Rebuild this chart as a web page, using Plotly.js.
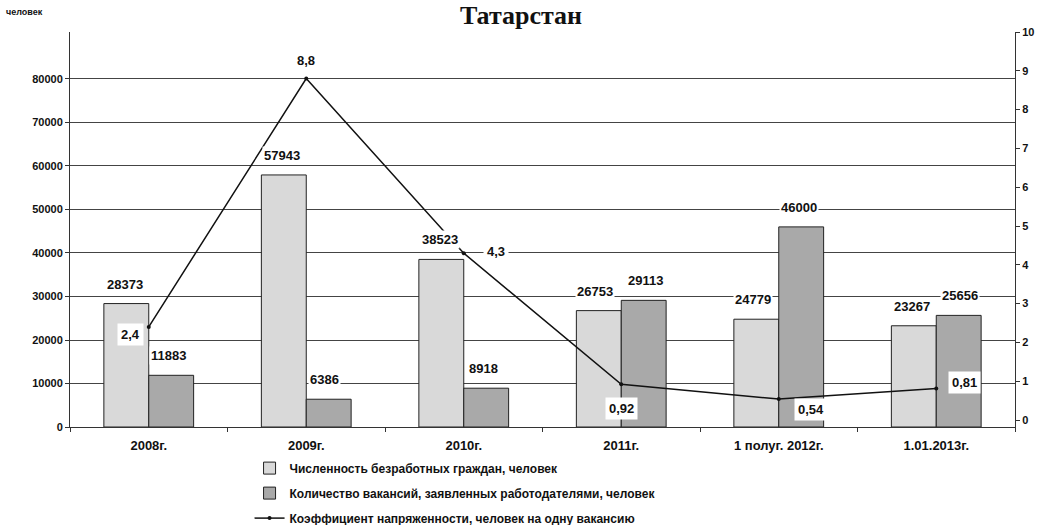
<!DOCTYPE html>
<html>
<head>
<meta charset="utf-8">
<script src="https://cdn.plot.ly/plotly-3.0.1.min.js"></script>
<style>html,body{margin:0;padding:0;background:#fff;}#chart{width:1042px;height:525px;}</style>
</head>
<body>
<div id="chart"></div>
<script>
const categories = ["2008г.", "2009г.", "2010г.", "2011г.", "1 полуг. 2012г.", "1.01.2013г."];
const unemployed = [28373, 57943, 38523, 26753, 24779, 23267];
const vacancies = [11883, 6386, 8918, 29113, 46000, 25656];
const ratio = [2.4, 8.8, 4.3, 0.92, 0.54, 0.81];
const ratioLabels = ["2,4", "8,8", "4,3", "0,92", "0,54", "0,81"];
const seriesNames = [
  "Численность безработных граждан, человек",
  "Количество вакансий, заявленных работодателями, человек",
  "Коэффициент напряженности, человек на одну вакансию"
];

// label offsets (style only)
const ratioOffsets = [[-18, 8], [0, -18], [32, -2], [0, 24], [32, 10], [28, -6]];
const unempShift = [[-24, -10], [-24, -10], [-24, -10], [-26, -10], [-26, -10], [-24, -10]];
const vacShift = [[20, -10], [18, -10], [20, -10], [24, -10], [20, -10], [24, -10]];

const font = "Liberation Sans, Arial, sans-serif";
const labelFont = {family: font, size: 13, color: "#111", weight: "bold"};

const traces = [
  {type: "bar", name: seriesNames[0], x: categories, y: unemployed,
   marker: {color: "#d9d9d9", line: {color: "#222", width: 1}}, legendgroup: "a"},
  {type: "bar", name: seriesNames[1], x: categories, y: vacancies,
   marker: {color: "#a9a9a9", line: {color: "#222", width: 1}}, legendgroup: "b"},
  {type: "scatter", mode: "lines+markers", name: seriesNames[2], x: categories, y: ratio, yaxis: "y2",
   line: {color: "#111", width: 1.5}, marker: {color: "#111", size: 4}, legendgroup: "c"}
];

const annotations = [];
categories.forEach((c, i) => {
  annotations.push({x: c, y: unemployed[i], xref: "x", yref: "y", text: String(unemployed[i]),
    showarrow: false, xshift: unempShift[i][0], yshift: -unempShift[i][1], yanchor: "bottom",
    bgcolor: "#fff", font: labelFont});
  annotations.push({x: c, y: vacancies[i], xref: "x", yref: "y", text: String(vacancies[i]),
    showarrow: false, xshift: vacShift[i][0], yshift: -vacShift[i][1], yanchor: "bottom",
    bgcolor: "#fff", font: labelFont});
  annotations.push({x: c, y: ratio[i], xref: "x", yref: "y2", text: ratioLabels[i],
    showarrow: false, xshift: ratioOffsets[i][0], yshift: -ratioOffsets[i][1],
    bgcolor: "#fff", borderpad: 3, font: {family: font, size: 13, color: "#111", weight: "bold"}});
});
annotations.push({xref: "paper", yref: "paper", x: -0.07, y: 1.05, xanchor: "left", yanchor: "middle",
  text: "человек", showarrow: false, font: {family: font, size: 9, color: "#111", weight: "bold"}});

const layout = {
  width: 1042, height: 525,
  margin: {l: 70, r: 27, t: 32, b: 98},
  paper_bgcolor: "#fff", plot_bgcolor: "#fff",
  title: {text: "Татарстан", x: 0.5, xanchor: "center", y: 0.972, yanchor: "middle",
    font: {family: "Liberation Serif, Times New Roman, serif", size: 26, color: "#111", weight: "bold"}},
  barmode: "group", bargap: 0.43, bargroupgap: 0,
  showlegend: true,
  legend: {x: 0.19, xanchor: "left", yref: "container", y: 0.136, yanchor: "top", orientation: "v",
    traceorder: "grouped", tracegroupgap: 6,
    font: {family: font, size: 12, color: "#111", weight: "bold"}, itemwidth: 30},
  xaxis: {type: "category", range: [-0.5, 5.5], showline: true, linecolor: "#333", linewidth: 1,
    ticks: "outside", tickson: "boundaries", ticklen: 4, tickcolor: "#333", ticklabelstandoff: 6,
    tickfont: {family: font, size: 13, color: "#111", weight: "bold"}, showgrid: false, mirror: false},
  yaxis: {range: [0, 90800], tickvals: [0,10000,20000,30000,40000,50000,60000,70000,80000],
    ticktext: ["0","10000","20000","30000","40000","50000","60000","70000","80000"],
    showline: true, linecolor: "#333", linewidth: 1, ticks: "outside", ticklen: 4, tickcolor: "#333",
    showgrid: true, gridcolor: "#444", gridwidth: 1, zeroline: false,
    tickfont: {family: font, size: 11, color: "#111", weight: "bold"}},
  yaxis2: {overlaying: "y", side: "right", range: [-0.18, 10], tickvals: [0,1,2,3,4,5,6,7,8,9,10],
    showline: true, linecolor: "#333", linewidth: 1, ticks: "outside", ticklen: 4, tickcolor: "#333",
    showgrid: false, zeroline: false,
    tickfont: {family: font, size: 11, color: "#111", weight: "bold"}},
  annotations: annotations
};

Plotly.newPlot("chart", traces, layout, {staticPlot: true, displayModeBar: false});
</script>
</body>
</html>
